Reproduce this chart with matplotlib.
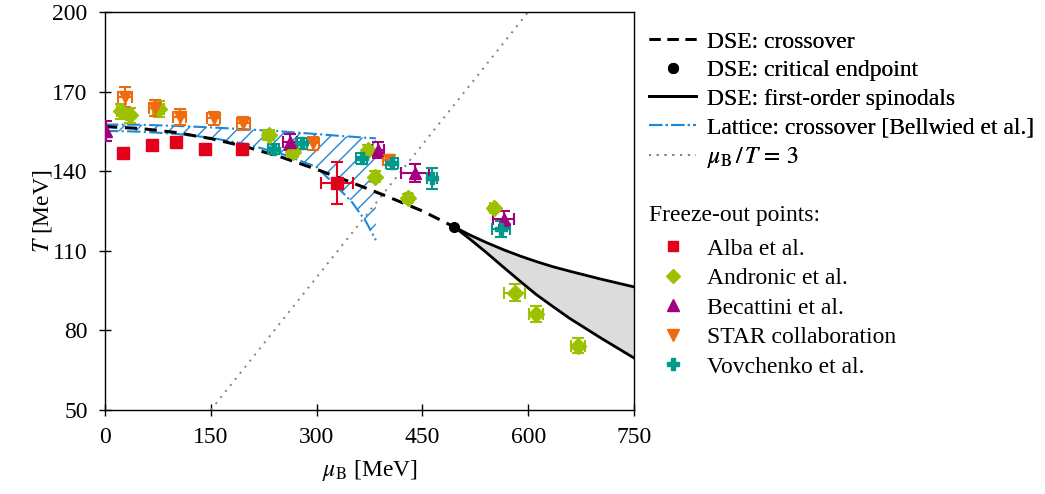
import numpy as np
import matplotlib
matplotlib.use("Agg")
import matplotlib.pyplot as plt
from matplotlib.lines import Line2D

FS = 17
plt.rcParams['font.family'] = ['Liberation Serif', 'DejaVu Serif']
plt.rcParams['mathtext.fontset'] = 'stix'
plt.rcParams['font.size'] = FS
plt.rcParams['hatch.color'] = '#1f88d6'
plt.rcParams['hatch.linewidth'] = 1.0

# DSE crossover line
dse_mu = [0, 50, 100, 150, 200, 250, 300, 350, 400, 450, 495]
dse_T = [156.8, 156.1, 154.6, 152.3, 149.2, 145.3, 140.7, 135.7, 130.5, 125.0, 119.0]
# critical endpoint
cep_mu = [495]
cep_T = [119]
# spinodals
spin_mu = [495, 517, 540, 565, 590, 612, 635, 659, 702, 750]
spin_up = [119, 116.0, 113.2, 110.4, 107.9, 105.9, 104.0, 102.3, 99.4, 96.4]
spin_lo = [119, 114.5, 109.5, 103.8, 98.2, 93.4, 89.0, 84.5, 77.3, 69.6]
# lattice crossover band (Bellwied et al.)
lat_mu = [0, 50, 100, 150, 200, 250, 300, 333, 350, 370, 384]
lat_up = [157.6, 157.5, 157.1, 156.5, 155.8, 155.0, 154.0, 153.3, 153.0, 152.6, 152.4]
lat_lo = [155.2, 154.9, 154.1, 152.6, 150.2, 146.6, 141.6, 133.0, 128.4, 121.0, 114.0]
# mu_B / T = 3
ratio_T = [50, 200]

# Freeze-out points
alba_mu = [26, 67, 101, 142, 194, 329]
alba_T = [146.7, 149.9, 151.0, 148.4, 148.2, 135.5]
alba_mu_err = [0, 0, 0, 0, 0, 23]
alba_T_err = [0, 0, 0, 0, 0, 8]

andr_mu = [22, 35, 76, 232, 266, 373, 383, 430, 551, 581, 611, 671]
andr_T = [162.5, 161.0, 163.5, 153.6, 147.3, 148.0, 137.9, 129.9, 126.0, 94.2, 86.2, 74.2]
andr_mu_err = [5, 5, 8, 8, 8, 5, 5, 5, 5, 15, 9.5, 10]
andr_T_err = [3, 3, 3, 2, 2, 2, 2, 1.5, 1, 3.3, 3, 2.8]

beca_mu = [2, 262, 387, 440, 565]
beca_T = [155.0, 151.0, 148.0, 139.4, 121.9]
beca_mu_err = [0, 10, 8, 20, 15]
beca_T_err = [3.8, 3, 3, 3.5, 3]

star_mu = [28, 71, 106, 154, 196, 295, 402]
star_T = [168.1, 163.7, 160.5, 159.9, 158.0, 150.5, 144.2]
star_mu_err = [10, 9, 9, 9, 9, 8, 8]
star_T_err = [3.8, 3, 3, 2.5, 2.5, 2.5, 2]

vov_mu = [239, 279, 364, 407, 463, 561]
vov_T = [148.3, 150.5, 144.8, 143.0, 137.3, 118.1]
vov_mu_err = [8, 8, 8, 8, 7, 13]
vov_T_err = [2, 2, 2, 2, 4, 3]

c_alba = '#e3001b'
c_andr = '#9bc100'
c_beca = '#a3007f'
c_star = '#ee6b0f'
c_vov = '#00998a'
c_lat = '#1f88d6'

fig = plt.figure(figsize=(10.45, 4.94), dpi=100)
ax = fig.add_axes([105/1045, 1-410/494, (634-105)/1045, (410-12)/494])

# lattice band
ax.fill_between(lat_mu, lat_lo, lat_up, facecolor='none', edgecolor=c_lat,
                hatch='//', linewidth=0, zorder=1)
ax.plot(lat_mu, lat_up, color=c_lat, ls='-.', lw=1.5, zorder=2)
ax.plot(lat_mu, lat_lo, color=c_lat, ls='-.', lw=1.5, zorder=2)

# ratio line
ax.plot([3*t for t in ratio_T], ratio_T, color='gray', ls=(0, (1, 3)), lw=1.4, zorder=2)

# spinodals
ax.fill_between(spin_mu, spin_lo, spin_up, color='#dcdcdc', lw=0, zorder=1)
ax.plot(spin_mu, spin_up, color='black', lw=2, zorder=3)
ax.plot(spin_mu, spin_lo, color='black', lw=2, zorder=3)

# crossover
ax.plot(dse_mu, dse_T, color='black', ls=(0, (4, 2.5)), lw=2.2, zorder=3)
ax.plot(cep_mu, cep_T, 'o', color='black', ms=7, zorder=4)

def pts(mu, T, xe, ye, marker, color, ms):
    ax.errorbar(mu, T, xerr=xe, yerr=ye, fmt=marker, color=color, ms=ms,
                capsize=4, elinewidth=1.5, capthick=1.5, zorder=5)

pts(alba_mu, alba_T, alba_mu_err, alba_T_err, 's', c_alba, 8)
pts(andr_mu, andr_T, andr_mu_err, andr_T_err, 'D', c_andr, 8.5)
pts(beca_mu, beca_T, beca_mu_err, beca_T_err, '^', c_beca, 9)
pts(star_mu, star_T, star_mu_err, star_T_err, 'v', c_star, 9)
pts(vov_mu, vov_T, vov_mu_err, vov_T_err, 'P', c_vov, 9)

ax.set_xlim(0, 750)
ax.set_ylim(50, 200)
ax.set_xticks([0, 150, 300, 450, 600, 750])
ax.set_yticks([50, 80, 110, 140, 170, 200])
ax.tick_params(direction='inout', length=9, width=1, labelsize=FS, pad=8)
for s in ax.spines.values():
    s.set_linewidth(1.0)
ax.set_xlabel(r'$\mu_\mathrm{B}$ [MeV]', fontsize=FS, labelpad=7)
ax.set_ylabel(r'$T$ [MeV]', fontsize=FS, labelpad=-1)

h1 = [Line2D([], [], color='black', ls=(0, (4, 2.5)), lw=2),
      Line2D([], [], color='black', marker='o', ls='none', ms=7),
      Line2D([], [], color='black', lw=2),
      Line2D([], [], color=c_lat, ls='-.', lw=1.5),
      Line2D([], [], color='gray', ls=(0, (1, 3)), lw=1.4)]
l1 = ['DSE: crossover', 'DSE: critical endpoint', 'DSE: first-order spinodals',
      'Lattice: crossover [Bellwied et al.]', r'$\mu_\mathrm{B}\,/\,T\,=\,3$']
leg1 = fig.legend(h1, l1, loc='upper left', bbox_to_anchor=(649/1045, 1-31/494),
                  frameon=False, handlelength=2.0, handletextpad=0.45,
                  labelspacing=0.3, borderaxespad=0, borderpad=0)

h2 = [Line2D([], [], color=c_alba, marker='s', ls='none', ms=7),
      Line2D([], [], color=c_andr, marker='D', ls='none', ms=7),
      Line2D([], [], color=c_beca, marker='^', ls='none', ms=8),
      Line2D([], [], color=c_star, marker='v', ls='none', ms=8),
      Line2D([], [], color=c_vov, marker='P', ls='none', ms=8)]
l2 = ['Alba et al.', 'Andronic et al.', 'Becattini et al.', 'STAR collaboration',
      'Vovchenko et al.']
fig.text(649/1045, 1-215/494, 'Freeze-out points:', fontsize=FS, ha='left', va='center')
leg2 = fig.legend(h2, l2, loc='upper left', bbox_to_anchor=(649/1045, 1-238/494),
                  frameon=False, handlelength=2.0, handletextpad=0.45,
                  labelspacing=0.34, borderaxespad=0, borderpad=0)
fig.add_artist(leg1)

fig.savefig('out.png', dpi=100)
